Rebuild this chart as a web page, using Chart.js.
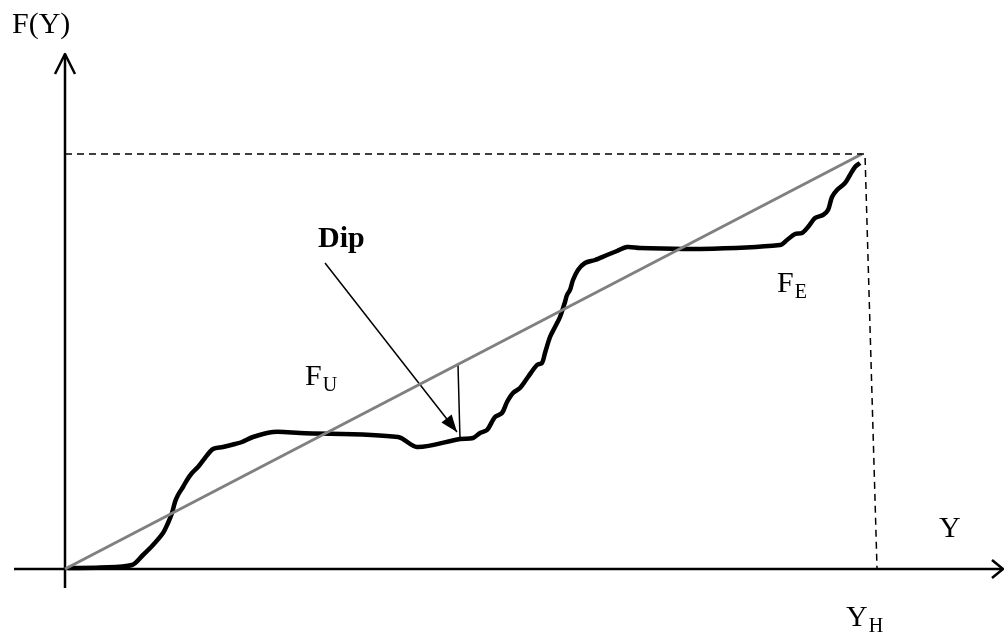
<!DOCTYPE html>
<html>
<head>
<meta charset="utf-8">
<style>
html,body{margin:0;padding:0;background:#fff;}
#wrap{width:1004px;height:632px;position:relative;}
</style>
<script src="https://cdn.jsdelivr.net/npm/chart.js@4.4.1/dist/chart.umd.min.js"></script>
</head>
<body>
<div id="wrap"><canvas id="c" width="1004" height="632"></canvas></div>
<script>
// Observed distribution curve F(Y) (thick black)
const curveX = [3,35,67,78,88,98,103,107,110,113,118,122,127,133,140,148,158,170,177,188,208,235,333,352,395,408,415,422,430,437,442,448,455,463,472,477,480,485,490,495,500,502,505,508,513,520,530,542,552,562,575,635,715,722,730,737,743,750,758,763,767,772,780,785,790,795];
const curveY = [1,1.5,4,14,24,36,46,56,67,74,82,89,96,102,111,120,122,125,127,132,137,136,132,122,130,131,136,139,152,156,167,176,181,192,204,206,216,232,242,252,267,274,279,289,299,306,309,314,318,322,321,320,324,329,335,336,342,351,354,359,372,379,386,394,402,406];
// Uniform reference line (grey)
const uniformX = [0, 797];
const uniformY = [0, 415];
// Dashed guides to Y_H
const guideX = [0, 800, 812];
const guideY = [415, 415, 1];
// Axes
const yAxisX = [0, 0];
const yAxisY = [-19, 515];
const xAxisX = [-51, 938];
const xAxisY = [0, 0];
const yArrowX = [-10, 0, 10];
const yArrowY = [495, 515, 495];
const xArrowX = [927, 938, 927];
const xArrowY = [9, 0, -9];
// Dip annotation
const dipArrowX = [260, 392];
const dipArrowY = [306, 137];
const dipGapX = [393, 395];
const dipGapY = [204, 130];
// Labels: [text, subscript, x, y, bold]
const labelText = ["F(Y)", "Dip", "F", "F", "Y", "Y"];
const labelSub  = ["", "", "U", "E", "", "H"];
const labelX    = [-53, 253, 240, 712, 874, 781];
const labelY    = [536, 322, 184, 277, 32, -57];
const labelBold = [false, true, false, false, false, false];

function pts(xs, ys){ return xs.map((x,i)=>({x:x, y:ys[i]})); }
function ds(xs, ys, color, width, dash, tension){
  return {data: pts(xs, ys), showLine: true, borderColor: color, borderWidth: width,
    borderDash: dash || [], pointRadius: 0, fill: false, tension: tension || 0,
    borderCapStyle: 'butt', borderJoinStyle: 'round'};
}

const overlay = {
  id: 'overlay',
  afterDatasetsDraw(chart){
    const ctx = chart.ctx, xs = chart.scales.x, ys = chart.scales.y;
    const x0 = xs.getPixelForValue(dipArrowX[0]), y0 = ys.getPixelForValue(dipArrowY[0]);
    const x1 = xs.getPixelForValue(dipArrowX[1]), y1 = ys.getPixelForValue(dipArrowY[1]);
    const a = Math.atan2(y1 - y0, x1 - x0), L = 17, W = 6.5;
    ctx.save();
    ctx.fillStyle = '#000';
    ctx.beginPath();
    ctx.moveTo(x1, y1);
    ctx.lineTo(x1 - L*Math.cos(a) + W*Math.sin(a), y1 - L*Math.sin(a) - W*Math.cos(a));
    ctx.lineTo(x1 - L*Math.cos(a) - W*Math.sin(a), y1 - L*Math.sin(a) + W*Math.cos(a));
    ctx.closePath();
    ctx.fill();
    ctx.textBaseline = 'alphabetic';
    ctx.textAlign = 'left';
    for (let i = 0; i < labelText.length; i++){
      const px = xs.getPixelForValue(labelX[i]), py = ys.getPixelForValue(labelY[i]);
      ctx.font = (labelBold[i] ? 'bold ' : '') + '30px "Liberation Serif", "Times New Roman", serif';
      ctx.fillText(labelText[i], px, py);
      if (labelSub[i]){
        const w = ctx.measureText(labelText[i]).width;
        ctx.font = '20px "Liberation Serif", "Times New Roman", serif';
        ctx.fillText(labelSub[i], px + w + 1, py + 6);
      }
    }
    ctx.restore();
  }
};

new Chart(document.getElementById('c'), {
  type: 'scatter',
  data: {
    datasets: [
      ds(guideX, guideY, '#000', 1.5, [7,5]),
      ds(uniformX, uniformY, '#808080', 3),
      ds(yAxisX, yAxisY, '#000', 2.5),
      ds(xAxisX, xAxisY, '#000', 2.5),
      ds(yArrowX, yArrowY, '#000', 2.5),
      ds(xArrowX, xArrowY, '#000', 2.5),
      ds(curveX, curveY, '#000', 4.5, null, 0.3),
      ds(dipArrowX, dipArrowY, '#000', 1.5),
      ds(dipGapX, dipGapY, '#000', 1.5)
    ]
  },
  options: {
    responsive: false,
    animation: false,
    devicePixelRatio: 1,
    layout: {padding: 0},
    plugins: {legend: {display: false}, tooltip: {enabled: false}, title: {display: false}},
    scales: {
      x: {type: 'linear', display: false, min: -65, max: 939},
      y: {type: 'linear', display: false, min: -63, max: 569}
    }
  },
  plugins: [overlay]
});
</script>
</body>
</html>
